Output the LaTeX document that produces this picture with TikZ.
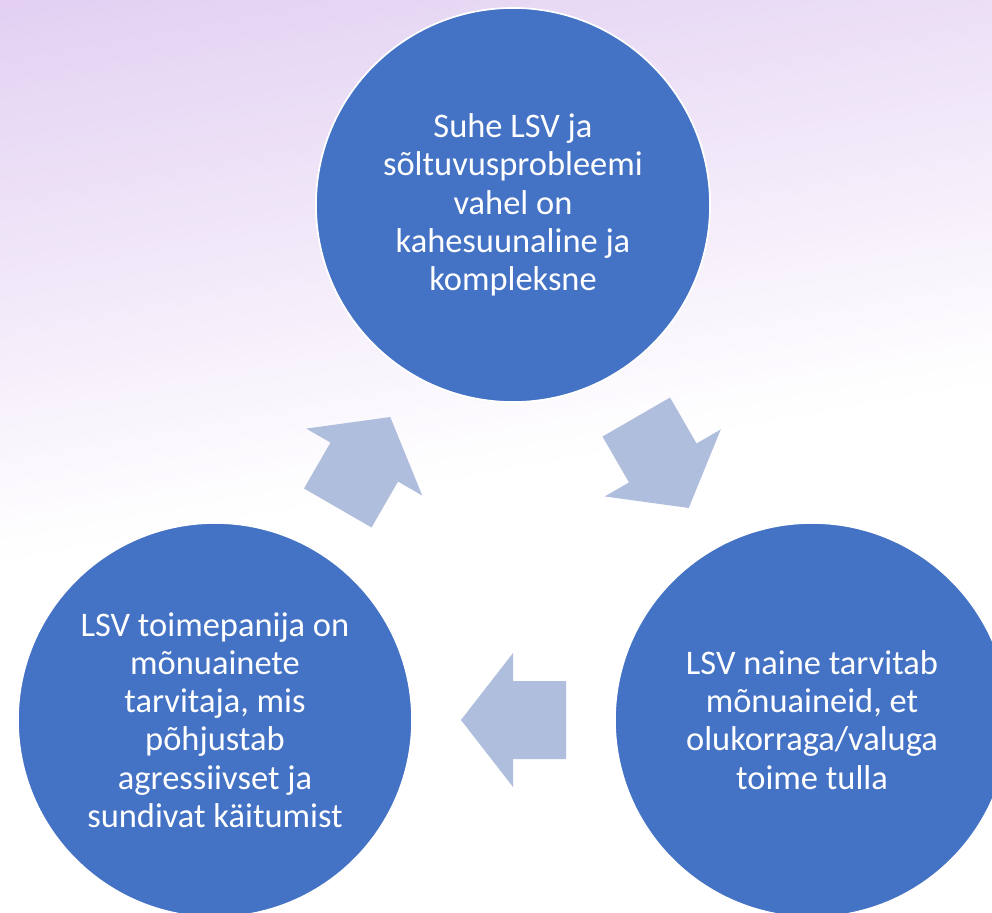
\documentclass[tikz,border=0pt]{standalone}
\usepackage{fontspec}
\setmainfont{Carlito}
\usetikzlibrary{calc}
\definecolor{cycleblue}{RGB}{68,114,196}
\definecolor{arrowblue}{RGB}{176,190,222}
\definecolor{softlilac}{RGB}{226,207,242}

\begin{document}
\begin{tikzpicture}[x=0.025cm,y=0.025cm]
\tikzstyle{bubble}=[circle,draw=white,line width=1.2pt,fill=cycleblue,minimum size=9.85cm,inner sep=0pt,align=center,text=white,font=\fontsize{24.5}{27.2}\selectfont]
\tikzset{cyclearrow/.pic={\fill[arrowblue] (-52.5,-39)--(0.5,-39)--(0.5,-67)--(52.5,0)--(0.5,67)--(0.5,39)--(-52.5,39)--cycle;}}
\useasboundingbox (0,0) rectangle (992,-913);
\clip (0,0) rectangle (992,-913);
% background, lilac fading to white
\fill[white] (0,0) rectangle (992,-913);
\foreach \s in {0,10,...,570}{
  \pgfmathsetmacro{\f}{min(100,(\s+5)/5.7)}
  \fill[softlilac!\f!white] (0,-560+\s) -- (992,-380+\s) -- (992,-369+\s) -- (0,-549+\s) -- cycle;
}
\node[bubble] (top) at (513,-205) {Suhe LSV ja\\sõltuvusprobleemi\\vahel on\\kahesuunaline ja\\kompleksne};
\node[bubble] (right) at (812,-720) {LSV naine tarvitab\\mõnuaineid, et\\olukorraga/valuga\\toime tulla};
\node[bubble] (left) at (215,-720) {LSV toimepanija on\\mõnuainete\\tarvitaja, mis\\põhjustab\\agressiivset ja\\sundivat käitumist};
\pic[rotate=-60] at ($(top)!0.5!(right)$) {cyclearrow};
\pic[rotate=180] at ($(right)!0.5!(left)$) {cyclearrow};
\pic[rotate=60] at ($(left)!0.5!(top)$) {cyclearrow};
\end{tikzpicture}
\end{document}
